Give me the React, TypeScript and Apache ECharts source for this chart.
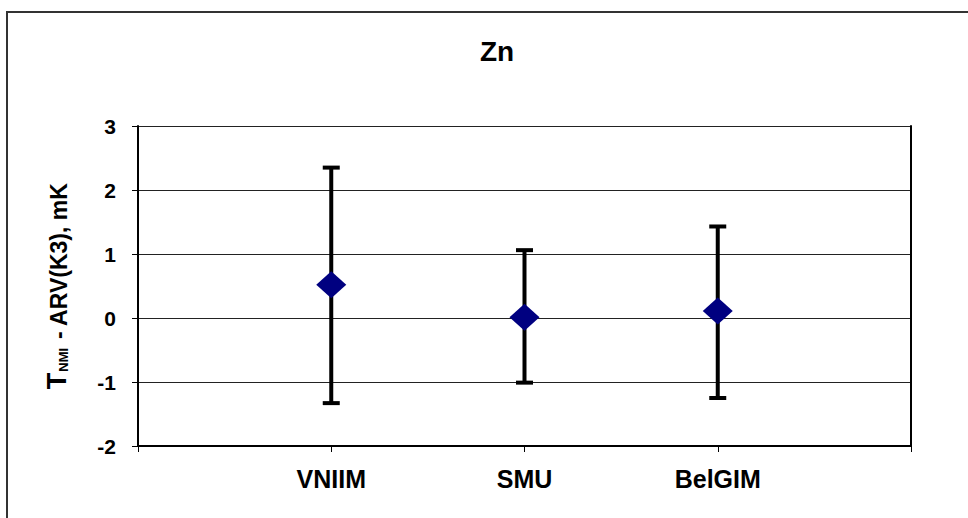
import React, { useEffect, useRef } from 'react';
import * as echarts from 'echarts';

const titleText = 'Zn';
const categories = ['VNIIM', 'SMU', 'BelGIM'];
const positions = [1, 2, 3];
const values = [0.52, 0.01, 0.11];
const upper = [2.35, 1.06, 1.43];
const lower = [-1.33, -1.01, -1.25];
const yMin = -2;
const yMax = 3;
const xMin = 0;
const xMax = 4;

const FONT = 'Liberation Sans, Arial, sans-serif';

export default function App() {
  const ref = useRef<HTMLDivElement>(null);
  useEffect(() => {
    if (!ref.current) return;
    const chart = echarts.init(ref.current, null, { renderer: 'svg' });
    const errData = positions.map((p, i) => [p, lower[i], upper[i]]);
    const pointData = positions.map((p, i) => [p, values[i]]);
    chart.setOption({
      animation: false,
      backgroundColor: '#fff',
      title: {
        text: titleText,
        left: 475,
        top: 32,
        textStyle: { fontFamily: FONT, fontSize: 28, fontWeight: 'bold', color: '#000' },
      },
      grid: { left: 138, right: 57, top: 126, bottom: 72, containLabel: false },
      xAxis: {
        type: 'value',
        min: xMin,
        max: xMax,
        interval: 1,
        axisLine: { show: true, onZero: false, lineStyle: { color: '#000', width: 2 } },
        axisTick: { show: true, length: 6, inside: false, lineStyle: { color: '#000', width: 1 } },
        splitLine: { show: false },
        axisLabel: {
          margin: 20,
          fontFamily: FONT,
          fontSize: 25,
          fontWeight: 'bold',
          color: '#000',
          showMinLabel: true,
          showMaxLabel: true,
          formatter: (v: number) => {
            const i = positions.indexOf(v);
            return i >= 0 ? categories[i] : '';
          },
        },
      },
      yAxis: [
        {
          type: 'value',
          min: yMin,
          max: yMax,
          interval: 1,
          name: '{t|T}{s|NMI}{n| - ARV(K3), mK}',
          nameLocation: 'middle',
          nameRotate: 90,
          nameGap: 68,
          nameTextStyle: {
            fontFamily: FONT,
            fontWeight: 'bold',
            color: '#000',
            rich: {
              t: { fontFamily: FONT, fontSize: 27, fontWeight: 'bold', color: '#000', verticalAlign: 'bottom' },
              s: { fontFamily: FONT, fontSize: 13, fontWeight: 'bold', color: '#000', verticalAlign: 'bottom', padding: [0, 2, 0, 1] },
              n: { fontFamily: FONT, fontSize: 23, fontWeight: 'bold', color: '#000', verticalAlign: 'bottom' },
            },
          },
          axisLine: { show: true, onZero: false, lineStyle: { color: '#000', width: 2 } },
          axisTick: { show: true, length: 6, inside: false, lineStyle: { color: '#000', width: 1 } },
          splitLine: { show: true, lineStyle: { color: '#222', width: 1 } },
          axisLabel: {
            margin: 22,
            fontFamily: FONT,
            fontSize: 21,
            fontWeight: 'bold',
            color: '#000',
          },
        },
        {
          type: 'value',
          position: 'right',
          min: yMin,
          max: yMax,
          interval: 1,
          axisLine: { show: true, onZero: false, lineStyle: { color: '#000', width: 2 } },
          axisTick: { show: false },
          axisLabel: { show: false },
          splitLine: { show: false },
        },
      ],
      graphic: [
        { type: 'line', shape: { x1: 7, y1: 12, x2: 7, y2: 530 }, style: { stroke: '#333', lineWidth: 2 } },
        { type: 'line', shape: { x1: 6, y1: 12, x2: 980, y2: 12 }, style: { stroke: '#333', lineWidth: 2 } },
      ],
      series: [
        {
          type: 'custom',
          name: 'error',
          z: 2,
          data: errData,
          renderItem: (params: any, api: any) => {
            const x = api.value(0);
            const lo = api.coord([x, api.value(1)]);
            const hi = api.coord([x, api.value(2)]);
            const hw = 8.5;
            const style = { stroke: '#000', lineWidth: 4 };
            return {
              type: 'group',
              children: [
                { type: 'line', shape: { x1: hi[0], y1: hi[1], x2: lo[0], y2: lo[1] }, style },
                { type: 'line', shape: { x1: hi[0] - hw, y1: hi[1], x2: hi[0] + hw, y2: hi[1] }, style },
                { type: 'line', shape: { x1: lo[0] - hw, y1: lo[1], x2: lo[0] + hw, y2: lo[1] }, style },
              ],
            };
          },
        },
        {
          type: 'scatter',
          name: 'value',
          z: 3,
          symbol: 'diamond',
          symbolSize: [30, 27],
          itemStyle: { color: '#000080', opacity: 1 },
          data: pointData,
        },
      ],
    });
    return () => chart.dispose();
  }, []);
  return <div ref={ref} style={{ position: 'absolute', left: 0, top: 0, width: 968, height: 518 }} />;
}
